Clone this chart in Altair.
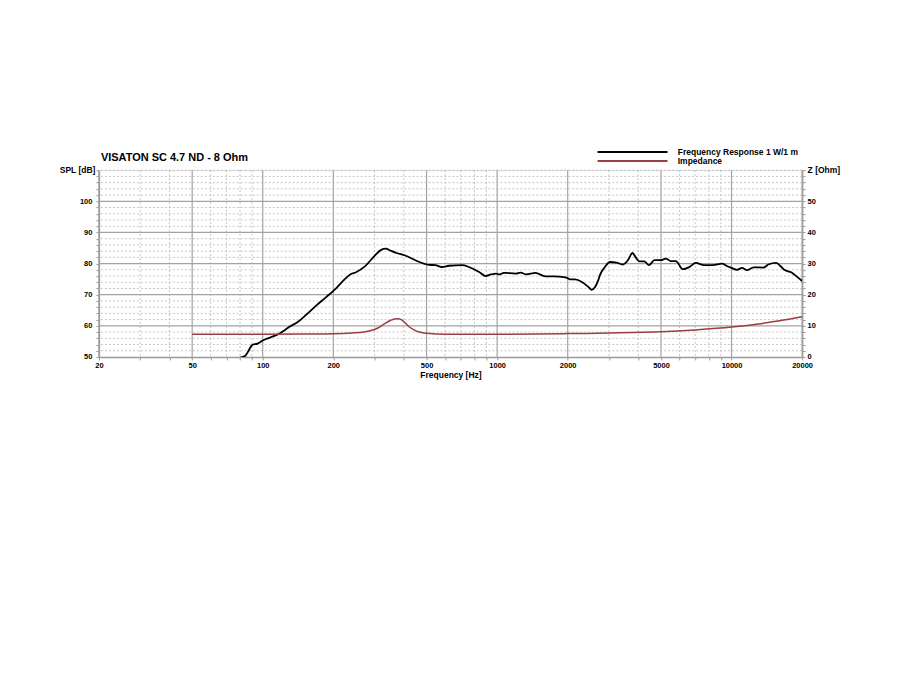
import altair as alt
import pandas as pd

TITLE = "VISATON SC 4.7 ND - 8 Ohm"
SERIES = ["Frequency Response 1 W/1 m", "Impedance"]
COLORS = ["#000000", "#9b3d42"]

spl_freq = [80, 84, 87, 90, 95, 100, 108, 117, 124, 130, 141, 153, 169, 187, 207, 224, 236, 250,
            272, 300, 320, 335, 350, 372, 405, 453, 511, 545, 582, 624, 711, 758, 838, 894, 940,
            990, 1018, 1069, 1200, 1260, 1330, 1458, 1606, 1740, 1955, 2053, 2150, 2300, 2450,
            2532, 2616, 2700, 2745, 2883, 3030, 3230, 3440, 3614, 3780, 3900, 4040, 4240, 4450,
            4690, 5000, 5250, 5510, 5790, 6190, 6610, 7040, 7640, 8290, 9130, 9500, 10000, 10560,
            11080, 11640, 12430, 13680, 14350, 15500, 16320, 16850, 17970, 19000, 20000]
spl_db = [49.8, 50.3, 52.0, 53.8, 54.3, 55.3, 56.3, 57.4, 58.6, 59.7, 61.2, 63.5, 66.5, 69.3, 72.3,
          75.0, 76.5, 77.2, 79.0, 82.5, 84.4, 84.8, 84.2, 83.4, 82.6, 80.9, 79.6, 79.5, 78.9, 79.3,
          79.5, 78.9, 77.3, 76.0, 76.5, 76.8, 76.5, 77.0, 76.8, 77.1, 76.5, 77.0, 75.9, 75.9, 75.6,
          74.9, 74.9, 74.1, 72.5, 71.6, 72.5, 74.7, 76.3, 78.9, 80.5, 80.3, 79.7, 81.1, 83.4, 82.0,
          80.7, 80.7, 79.5, 81.1, 81.1, 81.6, 80.8, 80.8, 78.2, 78.9, 80.2, 79.5, 79.5, 80.0, 79.3,
          78.6, 78.0, 78.6, 77.9, 78.8, 78.7, 79.7, 80.2, 78.9, 77.9, 77.2, 75.8, 74.4]

imp_freq = [50, 100, 150, 200, 240, 270, 290, 310, 330, 350, 365, 378, 390, 405, 420, 440, 465,
            500, 550, 650, 1000, 2000, 3000, 5000, 7000, 10000, 13000, 16000, 20000]
imp_ohm = [7.3, 7.3, 7.35, 7.45, 7.7, 8.0, 8.5, 9.3, 10.6, 11.7, 12.2, 12.3, 12.0, 11.0, 9.8, 8.8,
           8.0, 7.6, 7.4, 7.3, 7.3, 7.5, 7.7, 8.1, 8.7, 9.6, 10.6, 11.6, 12.9]

x_major = [20, 50, 100, 200, 500, 1000, 2000, 5000, 10000, 20000]
x_minor = [30, 40, 60, 70, 80, 90, 300, 400, 600, 700, 800, 900, 3000, 4000, 6000, 7000, 8000, 9000]
db_major = [60, 70, 80, 90, 100]
db_minor = [52, 54, 56, 58, 62, 64, 66, 68, 72, 74, 76, 78, 82, 84, 86, 88, 92, 94, 96, 98,
            102, 104, 106, 108, 110]
spl_ticks = [50] + db_minor[:4] + [60] + db_minor[4:8] + [70] + db_minor[8:12] + [80] + \
    db_minor[12:16] + [90] + db_minor[16:20] + [100] + db_minor[20:]
z_ticks = [0, 2, 4, 6, 8, 10, 12, 14, 16, 18, 20, 22, 24, 26, 28, 30, 32, 34, 36, 38, 40,
           42, 44, 46, 48, 50, 52, 54, 56, 58, 60]

FONT = "Liberation Sans"
GRID_MAJOR = "#a3a3a3"
GRID_MINOR = "#b8b8b8"
AXIS_COL = "#9a9a9a"
TICK_FS = 7.5

spl_df = pd.DataFrame({"f": spl_freq, "v": spl_db, "series": SERIES[0]})
imp_df = pd.DataFrame({"f": imp_freq, "v": imp_ohm, "series": SERIES[1]})

xs = alt.Scale(type="log", domain=[20, 20000], nice=False)
ys = alt.Scale(domain=[50, 110], nice=False, zero=False)
zs = alt.Scale(domain=[0, 60], nice=False, zero=False)

major_list = "[" + ",".join(str(v) for v in x_major) + "]"
x_axis = alt.Axis(
    values=x_major + x_minor,
    labelExpr=f"indexof({major_list}, datum.value) >= 0 ? datum.value + '' : ''",
    title="Frequency [Hz]", grid=False, tickSize=3, tickColor=AXIS_COL, tickWidth=1,
    domainColor=AXIS_COL, domainWidth=1.5, labelFont=FONT, labelFontSize=TICK_FS,
    labelFontWeight="bold", labelColor="#000000", labelPadding=2, labelOverlap=False,
    labelFlush=False, labelBound=False, titleFont=FONT, titleFontSize=8.5,
    titleFontWeight="bold", titleColor="#000000", titlePadding=1,
)
y_axis = alt.Axis(
    orient="left", values=spl_ticks,
    labelExpr="datum.value % 10 == 0 && datum.value < 110 ? datum.value + '' : ''",
    title="SPL [dB]", grid=False, tickSize=3, tickColor=AXIS_COL, tickWidth=1,
    domainColor=AXIS_COL, domainWidth=1.5, labelFont=FONT, labelFontSize=TICK_FS,
    labelFontWeight="bold", labelColor="#000000", labelPadding=4, labelOverlap=False,
    labelFlush=False, labelBound=False, titleFont=FONT, titleFontSize=8.5,
    titleFontWeight="bold", titleColor="#000000", titleAngle=0, titleAlign="right",
    titleBaseline="middle", titleX=-4, titleY=-1,
)
z_axis = alt.Axis(
    orient="right", values=z_ticks,
    labelExpr="datum.value % 10 == 0 && datum.value < 60 ? datum.value + '' : ''",
    title="Z [Ohm]", grid=False, tickSize=3, tickColor=AXIS_COL, tickWidth=1,
    domainColor=AXIS_COL, domainWidth=1.5, labelFont=FONT, labelFontSize=TICK_FS,
    labelFontWeight="bold", labelColor="#000000", labelPadding=2, labelOverlap=False,
    labelFlush=False, labelBound=False, titleFont=FONT, titleFontSize=8.5,
    titleFontWeight="bold", titleColor="#000000", titleAngle=0, titleAlign="left",
    titleBaseline="middle", titleX=5, titleY=-1,
)

X = alt.X("f:Q", scale=xs, axis=x_axis)
color = alt.Color(
    "series:N",
    scale=alt.Scale(domain=SERIES, range=COLORS),
    legend=alt.Legend(
        title=None, orient="none", legendX=530, legendY=-22.5, padding=0,
        symbolType="M-11.67,0H11.67", symbolSize=36, symbolStrokeWidth=2,
        labelOffset=41, labelFont=FONT, labelFontSize=8.5, labelFontWeight="bold",
        labelColor="#000000", rowPadding=0,
    ),
)

vminor = alt.Chart(pd.DataFrame({"f": x_minor})).mark_rule(
    color=GRID_MINOR, strokeWidth=0.8, strokeDash=[2, 2]).encode(x=X)
vmajor = alt.Chart(pd.DataFrame({"f": x_major})).mark_rule(
    color=GRID_MAJOR, strokeWidth=1.2).encode(x=X)
hminor = alt.Chart(pd.DataFrame({"v": db_minor})).mark_rule(
    color=GRID_MINOR, strokeWidth=0.8, strokeDash=[2, 2]).encode(
    y=alt.Y("v:Q", scale=ys, axis=y_axis))
hmajor = alt.Chart(pd.DataFrame({"v": db_major})).mark_rule(
    color=GRID_MAJOR, strokeWidth=1.2).encode(
    y=alt.Y("v:Q", scale=ys, axis=y_axis))
spl = alt.Chart(spl_df).mark_line(strokeWidth=1.8, interpolate="monotone", clip=True).encode(
    x=X, y=alt.Y("v:Q", scale=ys, axis=y_axis), color=color)
imp = alt.Chart(imp_df).mark_line(strokeWidth=1.5, interpolate="monotone", clip=True).encode(
    x=X, y=alt.Y("v:Q", scale=zs, axis=z_axis), color=color)

left = alt.layer(vminor, vmajor, hminor, hmajor, spl)
chart = alt.layer(left, imp).resolve_scale(y="independent").properties(
    width=704, height=187,
    title=alt.TitleParams(TITLE, anchor="start", frame="group", font=FONT, fontSize=11,
                          fontWeight="bold", color="#000000", baseline="alphabetic",
                          offset=0, dx=2, dy=24),
    padding={"left": 91, "top": 162, "right": 90, "bottom": 300},
    autosize="none",
).configure_view(stroke=None).configure(background="white")

chart.save("out.html", embed_options={"renderer": "svg", "actions": False})
